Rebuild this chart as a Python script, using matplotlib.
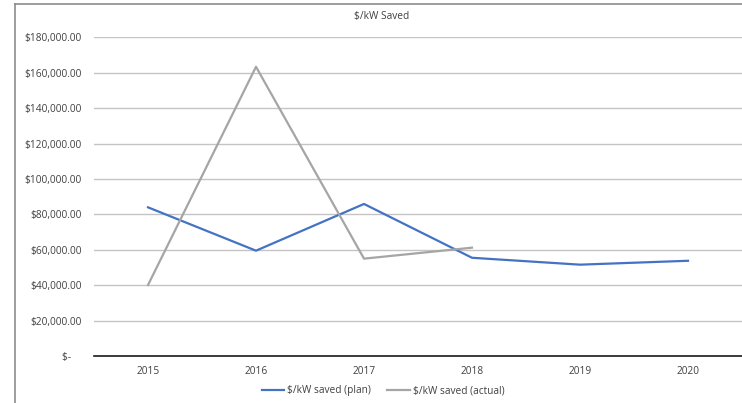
import matplotlib.pyplot as plt
from matplotlib.lines import Line2D
from matplotlib.ticker import FuncFormatter

years = ["2015", "2016", "2017", "2018", "2019", "2020"]
plan = [84000, 59500, 85900, 55500, 51600, 53800]
actual_years = ["2015", "2016", "2017", "2018"]
actual = [40100, 163400, 55000, 61200]

W, H = 742, 403
plt.rcParams["font.family"] = ["Open Sans", "DejaVu Sans"]

fig = plt.figure(figsize=(W / 100, H / 100), dpi=100)
ax = fig.add_axes([94 / W, 1 - 356 / H, (742 - 94) / W, (356 - 37.4) / H])

# chart frame, only the left and top edges fall inside the image
fig.add_artist(Line2D([15 / W, 15 / W], [0, 1 - 4 / H], color="#8c8c8c", lw=1.2))
fig.add_artist(Line2D([15 / W, 1], [1 - 4 / H, 1 - 4 / H], color="#8c8c8c", lw=1.2))

x = list(range(len(years)))
ax.plot(x, plan, color="#4472C4", lw=1.6, label="$/kW saved (plan)", clip_on=False)
ax.plot(x[:len(actual)], actual, color="#A5A5A5", lw=1.6, label="$/kW saved (actual)",
        clip_on=False)

ax.set_xlim(-0.5, len(years) - 0.5)
ax.set_ylim(0, 180000)
ax.set_yticks(range(0, 180001, 20000))
ax.yaxis.set_major_formatter(FuncFormatter(
    lambda v, _: "$-    " if v == 0 else f"${v:,.2f}"))
ax.set_xticks(x)
ax.set_xticklabels(years)
ax.grid(axis="y", color="#c4c4c4", lw=1)
ax.set_axisbelow(True)
for side in ["left", "right", "top"]:
    ax.spines[side].set_visible(False)
ax.spines["bottom"].set_color("#1a1a1a")
ax.spines["bottom"].set_linewidth(1.2)
ax.tick_params(length=0, labelsize=7.3, colors="#404040", pad=9)
ax.tick_params(axis="x", pad=7)

fig.text(382 / W, 1 - 17 / H, "$/kW Saved", ha="center", va="center",
         fontsize=7.3, color="#404040")

fig.legend(loc="center", bbox_to_anchor=(383 / W, 1 - 391 / H), ncol=2, frameon=False,
           fontsize=7.3, labelcolor="#404040", handlelength=2.2, handletextpad=0.3,
           columnspacing=1.6)

fig.savefig("out.png", dpi=100)
